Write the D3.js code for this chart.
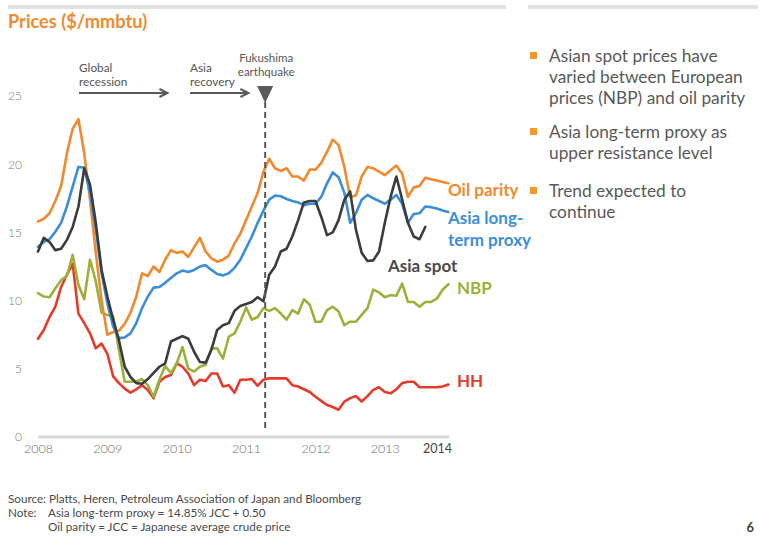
<!DOCTYPE html>
<html>
<head>
<meta charset="utf-8">
<script src="https://cdn.jsdelivr.net/npm/d3@7"></script>
<style>
  html, body { margin: 0; padding: 0; background: #ffffff; }
  svg { display: block; font-family: Lato, "Open Sans", sans-serif; }
</style>
</head>
<body>
<svg id="chart" width="762" height="541"></svg>
<script>
// ---- Data (monthly, Jan 2008 = index 0) ----
const yearLabels = ["2008", "2009", "2010", "2011", "2012", "2013", "2014"];
const yearMonths = [0, 12, 24, 36, 48, 60, 71];
const yTicks = [0, 5, 10, 15, 20, 25];

const oilParity = [15.8, 16.0, 16.4, 17.3, 18.4, 20.8, 22.6, 23.3, 20.8, 17.4, 13.5, 10.0,
  7.5, 7.7, 7.8, 8.3, 9.1, 10.3, 12.0, 11.8, 12.5, 12.1, 13.0, 13.7,
  13.5, 13.6, 13.2, 13.9, 14.6, 13.6, 13.1, 12.85, 13.0, 13.3, 14.2, 14.9,
  15.9, 16.9, 17.9, 19.45, 20.4, 19.7, 19.5, 19.7, 19.1, 19.1, 18.8, 19.6,
  19.6, 20.1, 20.9, 21.8, 21.4, 19.8, 17.6, 17.7, 19.1, 19.8, 19.7, 19.45,
  19.2, 19.55, 19.9, 19.3, 17.6, 18.3, 18.4, 19.0, 18.9, 18.8, 18.7, 18.6];

const asiaLongTerm = [13.95, 14.3, 14.5, 15.05, 15.7, 16.9, 18.35, 19.8, 19.75, 17.9, 15.2, 12.0,
  9.8, 8.1, 7.25, 7.3, 7.6, 8.35, 9.45, 10.3, 10.95, 11.0, 11.3, 11.65,
  12.0, 12.2, 12.1, 12.25, 12.5, 12.6, 12.25, 11.95, 11.85, 12.0, 12.4, 13.0,
  13.85, 14.7, 15.7, 16.6, 17.4, 17.7, 17.65, 17.45, 17.3, 17.2, 17.0, 17.1,
  17.1, 17.6, 18.6, 19.4, 19.05, 17.9, 15.7, 16.4, 17.4, 17.75, 17.5, 17.3,
  17.1, 17.4, 17.75, 17.1, 15.7, 16.35, 16.4, 16.9, 16.85, 16.75, 16.6, 16.5];

const asiaSpot = [13.6, 14.6, 14.3, 13.7, 13.8, 14.45, 15.4, 16.9, 19.7, 18.5, 15.7, 12.25,
  10.3, 8.6, 7.1, 5.15, 4.4, 3.95, 3.9, 4.25, 4.7, 5.15, 5.4, 7.0,
  7.2, 7.4, 7.2, 6.25, 5.5, 5.45, 6.4, 7.85, 8.2, 8.35, 9.25, 9.6,
  9.75, 9.9, 10.25, 9.95, 11.9, 12.5, 13.6, 13.8, 14.7, 15.9, 17.2, 17.3,
  17.3, 16.15, 14.8, 15.0, 15.9, 17.4, 18.0, 15.2, 13.5, 12.9, 12.95, 13.6,
  15.7, 17.6, 19.1, 17.4, 15.7, 14.7, 14.5, 15.4];

const nbp = [10.55, 10.3, 10.25, 10.9, 11.5, 11.8, 13.35, 11.15, 10.1, 13.0, 11.4, 9.1,
  8.95, 8.85, 6.4, 4.05, 4.05, 4.05, 4.25, 3.8, 2.95, 4.2, 5.2, 4.7,
  5.4, 6.6, 5.0, 4.8, 5.15, 5.3, 6.5, 6.5, 5.75, 7.35, 7.6, 8.45,
  9.5, 8.6, 8.8, 9.45, 9.25, 9.45, 9.05, 8.6, 9.3, 9.05, 10.1, 9.7,
  8.45, 8.45, 9.3, 9.55, 9.2, 8.2, 8.45, 8.45, 8.95, 9.45, 10.8, 10.6,
  10.25, 10.4, 10.35, 11.25, 9.9, 9.9, 9.55, 9.9, 9.9, 10.15, 10.8, 11.2];

const hh = [7.2, 7.85, 8.8, 9.55, 11.0, 11.9, 12.7, 9.05, 8.35, 7.6, 6.5, 6.85,
  6.1, 4.45, 3.95, 3.55, 3.25, 3.5, 3.8, 3.45, 2.85, 4.05, 4.4, 4.55,
  5.4, 5.15, 4.65, 3.8, 4.2, 4.1, 4.65, 4.65, 3.7, 3.8, 3.25, 4.2,
  4.2, 4.25, 3.75, 4.2, 4.3, 4.3, 4.3, 4.3, 3.8, 3.7, 3.5, 3.3,
  2.95, 2.65, 2.35, 2.2, 2.0, 2.6, 2.85, 3.0, 2.6, 3.0, 3.45, 3.65,
  3.3, 3.2, 3.5, 3.95, 4.05, 4.05, 3.65, 3.65, 3.65, 3.65, 3.7, 3.85];

const seriesNames = ["HH", "NBP", "Oil parity", "Asia long-term proxy", "Asia spot"];
const seriesColors = ["#e63b2b", "#9ab23b", "#f18a2f", "#3b8ed8", "#3c3c3c"];
const seriesData = [hh, nbp, oilParity, asiaLongTerm, asiaSpot];

const fukushimaMonth = 39.3;
const recessionSpan = [7.1, 22.4];
const recoverySpan = [26.3, 36.4];

const bullets = [
  ["Asian spot prices have", "varied between European", "prices (NBP) and oil parity"],
  ["Asia long-term proxy as", "upper resistance level"],
  ["Trend expected to", "continue"]
];

// ---- Drawing ----
const svg = d3.select("#chart");
const x = d3.scaleLinear().domain([0, 71]).range([38, 448.4]);
const y = d3.scaleLinear().domain([0, 25]).range([437, 96]);

// top bars
svg.append("rect").attr("x", 8).attr("y", 5).attr("width", 498).attr("height", 4).attr("fill", "#e2e2e2");
svg.append("rect").attr("x", 528).attr("y", 5).attr("width", 230).attr("height", 4).attr("fill", "#e2e2e2");

// title
svg.append("text").attr("x", 8).attr("y", 28)
  .attr("font-size", 18.2).attr("font-weight", "bold").attr("fill", "#f08a2e")
  .text("Prices ($/mmbtu)");

// y axis labels
const yAxis = d3.axisLeft(y).tickValues(yTicks).tickSize(0).tickPadding(0);
const gy = svg.append("g").attr("transform", "translate(22,0)").call(yAxis);
gy.select(".domain").remove();
gy.selectAll("text").attr("font-size", 12).attr("fill", "#7a7a7a")
  .attr("font-family", "Lato, sans-serif").attr("font-weight", 300);

// baseline
svg.append("line").attr("x1", x(0)).attr("x2", x(71) + 1).attr("y1", y(0)).attr("y2", y(0))
  .attr("stroke", "#d9d9d9").attr("stroke-width", 3);

// x axis labels
const xAxis = d3.axisBottom(x).tickValues(yearMonths).tickSize(0).tickPadding(0)
  .tickFormat((d, i) => yearLabels[i]);
const gx = svg.append("g").attr("transform", "translate(0,449)").call(xAxis);
gx.select(".domain").remove();
gx.selectAll("text").attr("font-size", 12.5).attr("fill", "#6a6a6a").attr("dy", "0.35em")
  .attr("font-family", "Lato, sans-serif").attr("font-weight", 300);
gx.selectAll(".tick").filter((d, i) => i === yearLabels.length - 1).select("text")
  .attr("text-anchor", "end").attr("dx", 3).attr("fill", "#444").attr("font-weight", 400);

// lines
const line = d3.line().x((d, i) => x(i)).y(d => y(d));
seriesData.forEach((s, k) => {
  svg.append("path").datum(s).attr("d", line)
    .attr("fill", "none").attr("stroke", seriesColors[k]).attr("stroke-width", 2.6)
    .attr("stroke-linejoin", "round").attr("stroke-linecap", "round");
});

// Fukushima marker
const fx = x(fukushimaMonth);
svg.append("line").attr("x1", fx).attr("x2", fx).attr("y1", 102).attr("y2", 432)
  .attr("stroke", "#5a5a5a").attr("stroke-width", 2).attr("stroke-dasharray", "6,4");
svg.append("path").attr("d", `M${fx - 8},86 L${fx + 8},86 L${fx},103 Z`).attr("fill", "#5a5a5a");
svg.append("text").attr("x", fx + 1).attr("y", 62).attr("text-anchor", "middle")
  .attr("font-size", 11.5).attr("fill", "#555").text("Fukushima");
svg.append("text").attr("x", fx + 1).attr("y", 76).attr("text-anchor", "middle")
  .attr("font-size", 11.5).attr("fill", "#555").text("earthquake");

// arrows
function arrow(span, lines) {
  const x1 = x(span[0]), x2 = x(span[1]);
  svg.append("line").attr("x1", x1).attr("x2", x2 - 1).attr("y1", 93).attr("y2", 93)
    .attr("stroke", "#5a5a5a").attr("stroke-width", 2);
  svg.append("path").attr("d", `M${x2 - 8},89 L${x2},93 L${x2 - 8},97`)
    .attr("fill", "none").attr("stroke", "#5a5a5a").attr("stroke-width", 2);
  lines.forEach((t, i) => {
    svg.append("text").attr("x", x1).attr("y", 72 + i * 14)
      .attr("font-size", 11.8).attr("fill", "#555").text(t);
  });
}
arrow(recessionSpan, ["Global", "recession"]);
arrow(recoverySpan, ["Asia", "recovery"]);

// series labels
const labelStyle = (sel, color) => sel.attr("font-size", 17).attr("font-weight", "bold").attr("fill", color);
labelStyle(svg.append("text").attr("x", 448).attr("y", 196).text("Oil parity"), seriesColors[2]);
labelStyle(svg.append("text").attr("x", 448).attr("y", 224).text("Asia long-"), seriesColors[3]);
labelStyle(svg.append("text").attr("x", 448).attr("y", 246).text("term proxy"), seriesColors[3]);
labelStyle(svg.append("text").attr("x", 388).attr("y", 272).text("Asia spot"), "#4a4a4a");
labelStyle(svg.append("text").attr("x", 457).attr("y", 294).text("NBP"), seriesColors[1]);
labelStyle(svg.append("text").attr("x", 457).attr("y", 387).text("HH"), seriesColors[0]);

// bullets
const bulletTops = [62, 138, 197];
bullets.forEach((b, i) => {
  svg.append("rect").attr("x", 530).attr("y", bulletTops[i] - 10).attr("width", 7).attr("height", 7)
    .attr("fill", "#f39a2a");
  b.forEach((t, j) => {
    svg.append("text").attr("x", 549).attr("y", bulletTops[i] + j * 21)
      .attr("font-size", 17.3).attr("fill", "#595959").text(t);
  });
});

// footnotes
const foot = [["Source:", "Platts, Heren, Petroleum Association of Japan and Bloomberg", 503, true],
  ["Note:", "Asia long-term proxy = 14.85% JCC + 0.50", 517, false],
  ["", "Oil parity = JCC = Japanese average crude price", 531, false]];
foot.forEach(f => {
  if (f[3]) {
    svg.append("text").attr("x", 8).attr("y", f[2]).attr("font-size", 11.7).attr("fill", "#4a4a4a")
      .text(f[0] + " " + f[1]);
  } else {
    if (f[0]) svg.append("text").attr("x", 8).attr("y", f[2]).attr("font-size", 11.7).attr("fill", "#4a4a4a").text(f[0]);
    svg.append("text").attr("x", 48).attr("y", f[2]).attr("font-size", 11.7).attr("fill", "#4a4a4a").text(f[1]);
  }
});

svg.append("text").attr("x", 754).attr("y", 532).attr("text-anchor", "end")
  .attr("font-size", 13).attr("font-weight", "bold").attr("fill", "#404040").text("6");
</script>
</body>
</html>
